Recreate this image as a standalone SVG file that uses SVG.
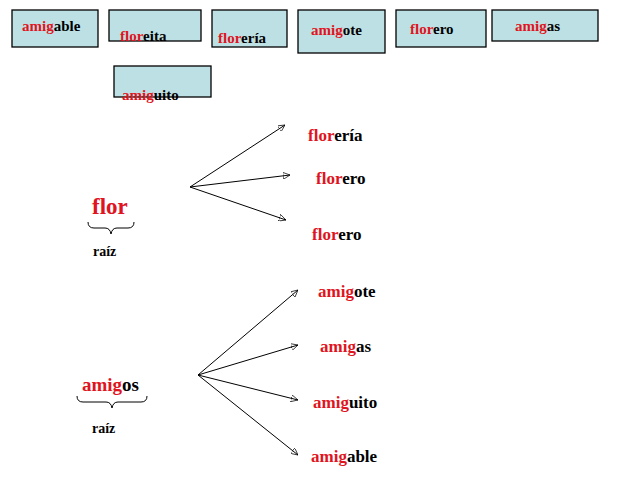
<svg xmlns="http://www.w3.org/2000/svg" width="638" height="479" viewBox="0 0 638 479" font-family="'Liberation Serif', 'DejaVu Serif', serif" font-weight="bold">
<defs>
<style>
text, tspan{font-family:'Liberation Serif','DejaVu Serif',serif;font-weight:bold}
.r{fill:#e0141e}
.b{fill:#bde0e4;stroke:#000;stroke-width:1.3}
.t{font-size:15px}
.m{font-size:17px}
line,path{stroke:#000;stroke-width:1;fill:none}
</style>
<marker id="a" viewBox="0 0 10 10" refX="10" refY="5" markerWidth="7" markerHeight="7" orient="auto"><path d="M0,0 L10,5 L0,10 z" fill="#000" stroke="none"/></marker>
</defs>
<g id="box-amigable"><rect class="b" x="12" y="10" width="86" height="37"/><text class="t" x="22" y="31"><tspan class="r">amig</tspan>able</text></g>
<g id="box-floreita"><rect class="b" x="109" y="10" width="92" height="31"/><text class="t" x="120" y="41"><tspan class="r">flor</tspan>eita</text></g>
<g id="box-floreria"><rect class="b" x="212" y="10" width="75" height="37"/><text class="t" x="218" y="43"><tspan class="r">flor</tspan>ería</text></g>
<g id="box-amigote"><rect class="b" x="298" y="10" width="87" height="43"/><text class="t" x="311" y="35"><tspan class="r">amig</tspan>ote</text></g>
<g id="box-florero"><rect class="b" x="396" y="10" width="90" height="37"/><text class="t" x="410" y="34"><tspan class="r">flor</tspan>ero</text></g>
<g id="box-amigas"><rect class="b" x="492" y="10" width="106" height="31"/><text class="t" x="515" y="31"><tspan class="r">amig</tspan>as</text></g>
<g id="box-amiguito"><rect class="b" x="114" y="66" width="97" height="31"/><text class="t" x="122" y="100"><tspan class="r">amig</tspan>uito</text></g>
<g id="connectors">
<line x1="190" y1="187" x2="285" y2="125" marker-end="url(#a)"/>
<line x1="190" y1="187" x2="290" y2="175" marker-end="url(#a)"/>
<line x1="190" y1="187" x2="286" y2="220" marker-end="url(#a)"/>
<line x1="198" y1="375" x2="298" y2="290" marker-end="url(#a)"/>
<line x1="198" y1="375" x2="298" y2="345" marker-end="url(#a)"/>
<line x1="198" y1="375" x2="298" y2="400" marker-end="url(#a)"/>
<line x1="198" y1="375" x2="298" y2="455" marker-end="url(#a)"/>
</g>
<g id="root-flor"><text x="92" y="214" font-size="23" class="r">flor</text>
<path d="M88,222 q0,6 6,6 h11 q5,0 6,6 q1,-6 6,-6 h11 q6,0 6,-6" stroke-width="2.2"/>
<text x="93" y="256" font-size="14">raíz</text></g>
<g id="root-amigos"><text x="82" y="391" font-size="19"><tspan class="r">amig</tspan>os</text>
<path d="M77,396 q0,6 6,6 h23 q5,0 6,6 q1,-6 6,-6 h23 q6,0 6,-6" stroke-width="2.2"/>
<text x="92" y="433" font-size="14">raíz</text></g>
<g id="lbl1"><text class="m" x="308" y="141"><tspan class="r">flor</tspan>ería</text></g>
<g id="lbl2"><text class="m" x="316" y="184"><tspan class="r">flor</tspan>ero</text></g>
<g id="lbl3"><text class="m" x="312" y="240"><tspan class="r">flor</tspan>ero</text></g>
<g id="lbl4"><text class="m" x="318" y="297"><tspan class="r">amig</tspan>ote</text></g>
<g id="lbl5"><text class="m" x="320" y="352"><tspan class="r">amig</tspan>as</text></g>
<g id="lbl6"><text class="m" x="313" y="408"><tspan class="r">amig</tspan>uito</text></g>
<g id="lbl7"><text class="m" x="311" y="462"><tspan class="r">amig</tspan>able</text></g>
</svg>
